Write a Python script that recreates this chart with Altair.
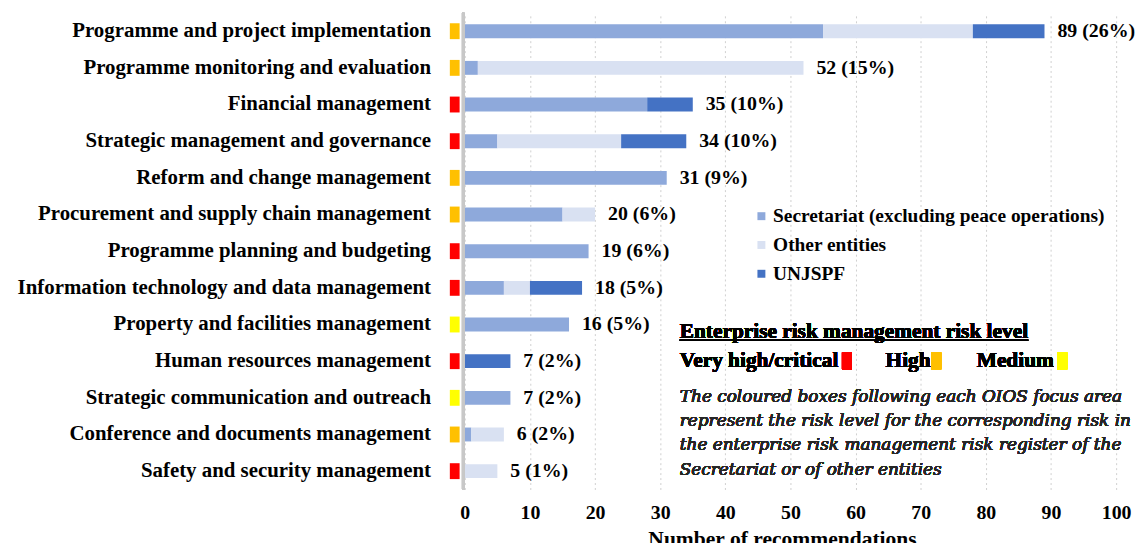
import altair as alt
import pandas as pd

categories = [
    "Programme and project implementation",
    "Programme monitoring and evaluation",
    "Financial management",
    "Strategic management and governance",
    "Reform and change management",
    "Procurement and supply chain management",
    "Programme planning and budgeting",
    "Information technology and data management",
    "Property and facilities management",
    "Human resources management",
    "Strategic communication and outreach",
    "Conference and documents management",
    "Safety and security management",
]
secretariat = [55, 2, 28, 5, 31, 15, 19, 6, 16, 0, 7, 1, 0]
other_entities = [23, 50, 0, 19, 0, 5, 0, 4, 0, 0, 0, 5, 5]
unjspf = [11, 0, 7, 10, 0, 0, 0, 8, 0, 7, 0, 0, 0]
total_labels = ["89 (26%)", "52 (15%)", "35 (10%)", "34 (10%)", "31 (9%)", "20 (6%)",
                "19 (6%)", "18 (5%)", "16 (5%)", "7 (2%)", "7 (2%)", "6 (2%)", "5 (1%)"]
risk_levels = ["High", "High", "Very high/critical", "Very high/critical", "High", "High",
               "Very high/critical", "Very high/critical", "Medium", "Very high/critical",
               "Medium", "High", "Very high/critical"]

series_names = ["Secretariat (excluding peace operations)", "Other entities", "UNJSPF"]
series_colors = ["#8EA9DB", "#D9E1F2", "#4472C4"]
risk_colors = {"Very high/critical": "#FF0000", "High": "#FFC000", "Medium": "#FFFF00"}

note_lines = [
    "The coloured boxes following each OIOS focus area",
    "represent the risk level for the corresponding risk in",
    "the enterprise risk management risk register of the",
    "Secretariat or of other entities",
]

SERIF = "Liberation Serif"

rows = []
for i, c in enumerate(categories):
    for k, (name, vals) in enumerate(zip(series_names, [secretariat, other_entities, unjspf])):
        rows.append({"category": c, "series": name, "order": k, "value": vals[i]})
long_df = pd.DataFrame(rows)

tot_df = pd.DataFrame({
    "category": categories,
    "total": [a + b + c for a, b, c in zip(secretariat, other_entities, unjspf)],
    "label": total_labels,
})
risk_df = pd.DataFrame({
    "category": categories,
    "x0": [-2.3] * len(categories),
    "x1": [-0.8] * len(categories),
    "color": [risk_colors[r] for r in risk_levels],
})

x_scale = alt.Scale(domain=[-2.6, 100], nice=False, zero=False)
y_sort = alt.Y("category:N", sort=categories)

y_enc = alt.Y("category:N", sort=categories, title=None,
              axis=alt.Axis(labelFont=SERIF, labelFontSize=21, labelFontWeight="bold",
                            labelColor="#000000", ticks=False, domain=False,
                            labelPadding=17.5, labelLimit=600, grid=False))

bars = alt.Chart(long_df).mark_bar(size=14).encode(
    x=alt.X("value:Q", stack="zero", scale=x_scale, title="Number of recommendations",
            axis=alt.Axis(values=list(range(0, 101, 10)), grid=True, gridDash=[2, 3],
                          gridColor="#D0D0D0", ticks=False, domain=False, labelFlush=False,
                          labelFont=SERIF, labelFontSize=20, labelFontWeight="bold",
                          labelColor="#000000", labelPadding=13,
                          titleFont=SERIF, titleFontSize=21.7, titleFontWeight="bold",
                          titleColor="#000000", titlePadding=6)),
    y=y_enc,
    color=alt.Color("series:N", scale=alt.Scale(domain=series_names, range=series_colors),
                    legend=alt.Legend(title=None, orient="none", legendX=306, legendY=195,
                                      symbolType="square", symbolSize=64, symbolStrokeWidth=0,
                                      labelFont=SERIF, labelFontSize=19.5, labelFontWeight="bold",
                                      labelColor="#000000", labelLimit=500, rowPadding=8,
                                      labelOffset=2)),
    order=alt.Order("order:Q"),
)

zero_line = alt.Chart(tot_df).mark_rule(color="#C8C8C8", strokeWidth=2.5).encode(
    x=alt.X(datum=-0.25, type="quantitative", scale=x_scale))

risk_boxes = alt.Chart(risk_df).mark_bar(size=16).encode(
    x=alt.X("x0:Q", scale=x_scale), x2="x1:Q", y=y_sort,
    color=alt.Color("color:N", scale=None),
)

labels = alt.Chart(tot_df).mark_text(align="left", baseline="middle", dx=13, font=SERIF,
                                     fontSize=20, fontWeight="bold", color="#000000").encode(
    x=alt.X("total:Q", scale=x_scale), y=y_sort, text="label:N",
)

layers = [bars, zero_line, risk_boxes, labels]

# annotation block (x in data units)
ann_x = 33.0
layers.append(alt.Chart(tot_df).mark_text(align="left", baseline="middle", font=SERIF, fontSize=21.5,
                                          fontWeight="bold", color="#000000").encode(
    x=alt.X(datum=ann_x, type="quantitative", scale=x_scale), y=alt.value(321),
    text=alt.value("Enterprise risk management risk level")))
layers.append(alt.Chart(tot_df).mark_rule(color="#000000", strokeWidth=1.3).encode(
    x=alt.X(datum=ann_x, type="quantitative", scale=x_scale), x2=alt.datum(86.5), y=alt.value(329.5)))

legend_items = [("Very high/critical", 33.0, 57.9), ("High", 64.6, 71.6), ("Medium", 78.6, 90.95)]
for name, tx, bx in legend_items:
    layers.append(alt.Chart(tot_df).mark_text(align="left", baseline="middle", font=SERIF, fontSize=21.5,
                                              fontWeight="bold", color="#000000").encode(
        x=alt.X(datum=tx, type="quantitative", scale=x_scale), y=alt.value(351), text=alt.value(name)))
    layers.append(alt.Chart(tot_df).mark_rect(color=risk_colors[name]).encode(
        x=alt.X(datum=bx, type="quantitative", scale=x_scale), x2=alt.datum(bx + 1.55),
        y=alt.value(342), y2=alt.value(359)))

for j, line in enumerate(note_lines):
    layers.append(alt.Chart(tot_df).mark_text(align="left", baseline="middle", font="DejaVu Serif",
                                              fontSize=17, fontStyle="italic", color="#262626").encode(
        x=alt.X(datum=ann_x, type="quantitative", scale=x_scale), y=alt.value(386.7 + j * 24.5),
        text=alt.value(line)))

chart = alt.layer(*layers).properties(
    width=673, height=480,
    background="#FFFFFF",
    autosize=alt.AutoSizeParams(type="none"),
    padding={"left": 443, "top": 3, "right": 20, "bottom": 54},
).configure_view(stroke=None, strokeWidth=0)

chart.save("out.html", embed_options={"renderer": "svg", "actions": False})
